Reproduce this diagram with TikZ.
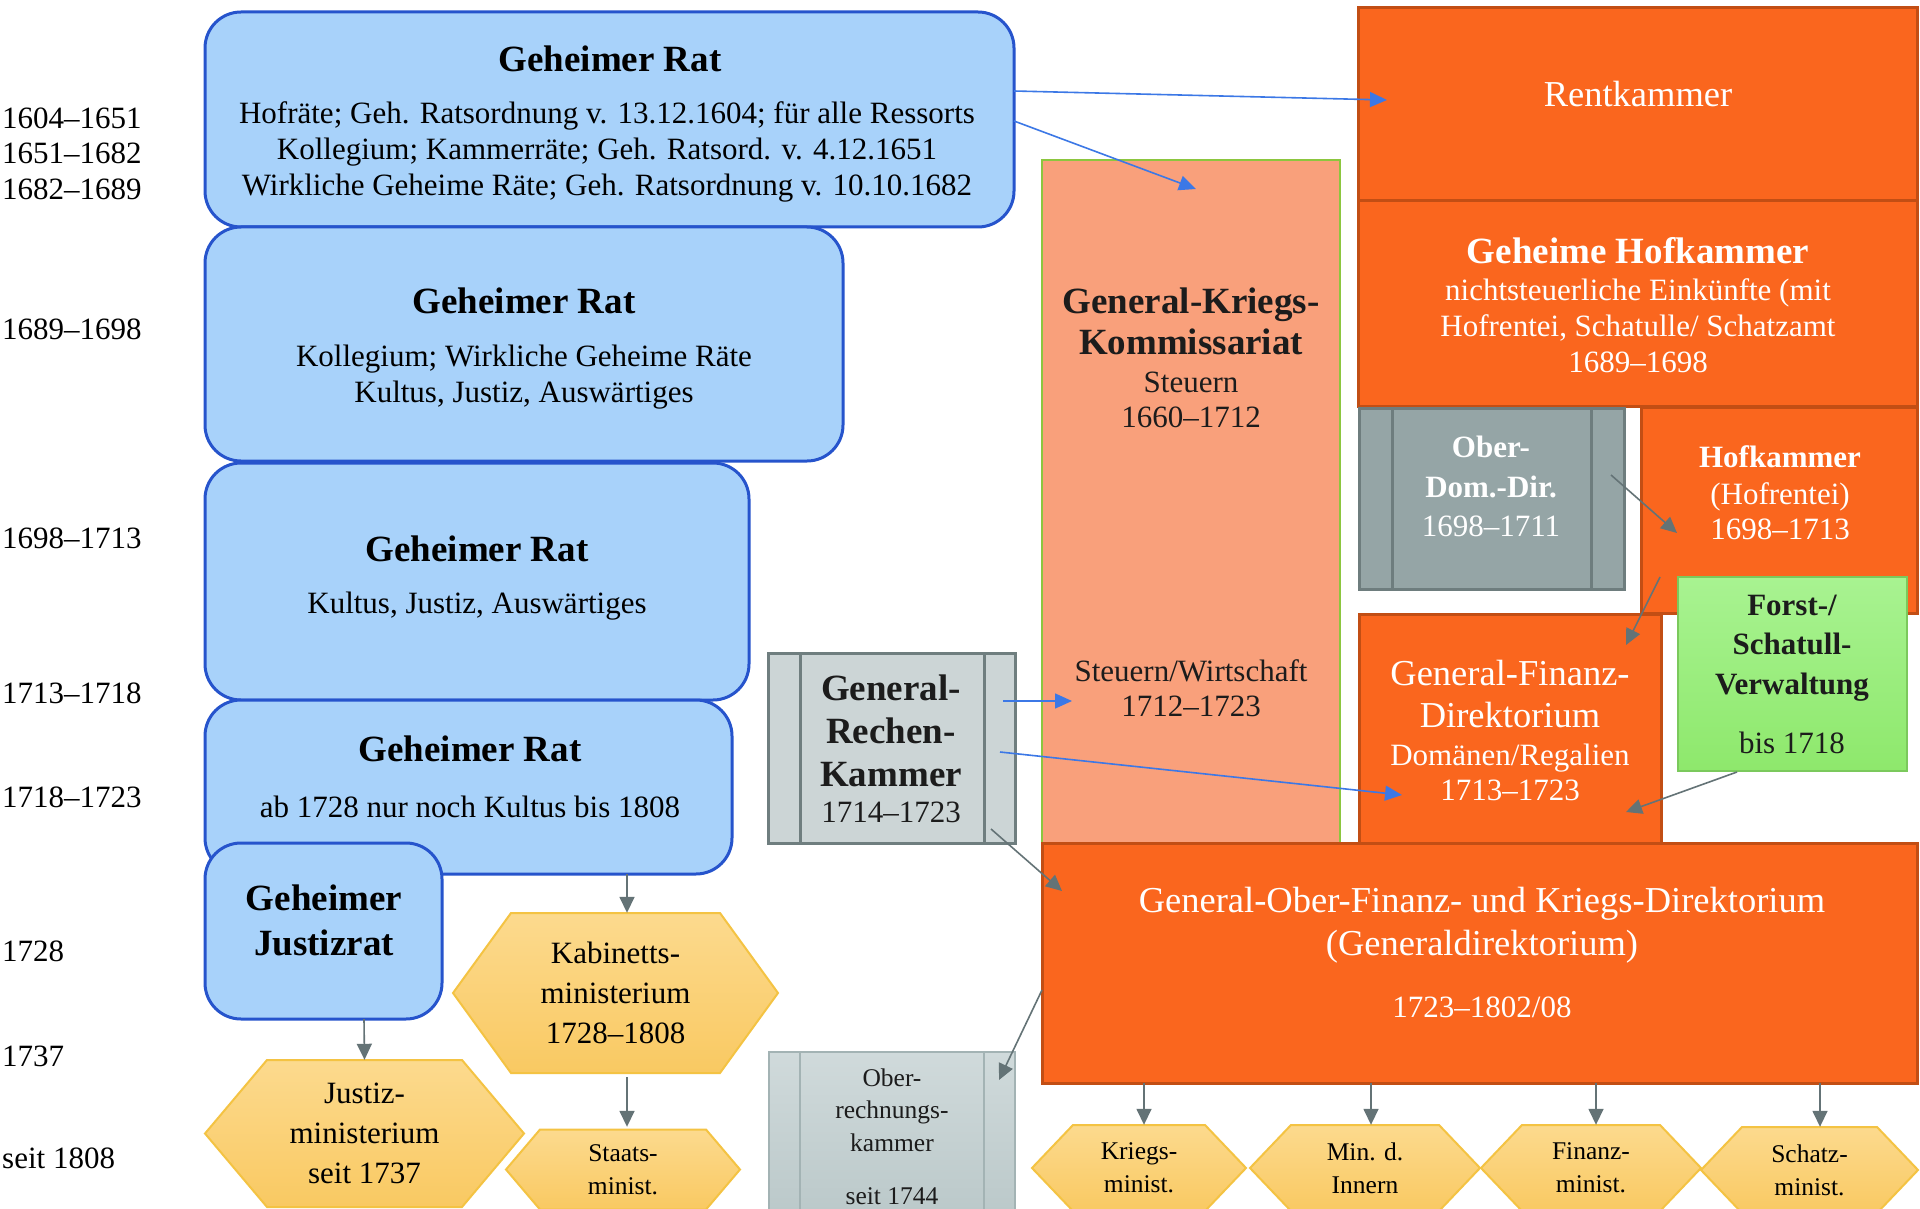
\documentclass[tikz,border=0pt]{standalone}
\usepackage{fontspec}
\setmainfont{Liberation Serif}
\usetikzlibrary{arrows.meta}
\definecolor{blueF}{HTML}{A8D2FA}
\definecolor{blueD}{HTML}{2654CC}
\definecolor{orF}{HTML}{FA661E}
\definecolor{orD}{HTML}{C24E14}
\definecolor{salF}{HTML}{F9A07B}
\definecolor{salD}{HTML}{8CC63F}
\definecolor{grF}{HTML}{95A5A6}
\definecolor{grD}{HTML}{6E7D7E}
\definecolor{lgF}{HTML}{CCD5D6}
\definecolor{lgD}{HTML}{6F7E7F}
\definecolor{orkT}{HTML}{D0DADB}
\definecolor{orkB}{HTML}{B9C7C8}
\definecolor{orkD}{HTML}{A3B3B4}
\definecolor{gnT}{HTML}{A8F391}
\definecolor{gnB}{HTML}{8EE86C}
\definecolor{gnD}{HTML}{7BC95C}
\definecolor{hxT}{HTML}{FCDA8E}
\definecolor{hxB}{HTML}{F9C962}
\definecolor{hxD}{HTML}{F4C343}
\definecolor{arB}{HTML}{3C78E6}
\definecolor{arG}{HTML}{647376}
\definecolor{dk}{HTML}{1C1C1C}
\newcommand\fR{\fontsize{31}{35}\selectfont}
\newcommand\fB{\fontsize{37}{41}\selectfont\bfseries}
\newcommand\fL{\fontsize{36.5}{40.5}\selectfont}
\newcommand\fS{\fontsize{25.5}{33}\selectfont}
\newcommand\hexa[8]{%
  \path[hexshape] ({#3-#5/2},#4) -- ({#3-#5/2+#7},{#4-#6/2}) -- ({#3+#5/2-#7},{#4-#6/2}) -- ({#3+#5/2},#4) -- ({#3+#5/2-#7},{#4+#6/2}) -- ({#3-#5/2+#7},{#4+#6/2}) -- cycle;
  \node[hexnode,#1,minimum width=#5pt,minimum height=#6pt] (#2) at (#3,#4) {#8};}
\begin{document}
\begin{tikzpicture}[x=1pt,y=-1pt,
  box/.style={rectangle,inner sep=0pt,outer sep=0pt},
  bluebox/.style={box,fill=blueF,draw=blueD,line width=3pt,rounded corners=36pt},
  orbox/.style={box,fill=orF,draw=orD,line width=3pt},
  txt/.style={inner sep=0pt,align=center,text=black},
  wtxt/.style={txt,text=white},
  dtxt/.style={txt,text=dk},
  yr/.style={inner sep=0pt,anchor=west,font=\fR},
  hexshape/.style={top color=hxT,bottom color=hxB,draw=hxD,line width=2pt,line join=miter},
  hexnode/.style={rectangle,inner sep=0pt,align=center,text=black},
  inner/.style={line width=3pt},
  barrow/.style={draw=arB,line width=1.6pt,-{Triangle[length=17pt,width=15pt]}},
  garrow/.style={draw=arG,line width=1.6pt,-{Triangle[length=16pt,width=15pt]}}
]
\useasboundingbox (0,0) rectangle (1920,1209);
\fill[white] (0,0) rectangle (1920,1209);

% year labels
\node[yr] (y1) at (2,118) {1604–1651};
\node[yr] (y2) at (2,153) {1651–1682};
\node[yr] (y3) at (2,189) {1682–1689};
\node[yr] (y4) at (2,329) {1689–1698};
\node[yr] (y5) at (2,538) {1698–1713};
\node[yr] (y6) at (2,693) {1713–1718};
\node[yr] (y7) at (2,797) {1718–1723};
\node[yr] (y8) at (2,951) {1728};
\node[yr] (y9) at (2,1056) {1737};
\node[yr] (y10) at (2,1158) {seit 1808};

% Geheimer Rat boxes
\node[bluebox,minimum width=809pt,minimum height=215pt] (gr1) at (609.5,119.5) {};
\node[txt,font=\fB] (gr1t) at (610,59) {Geheimer Rat};
\node[txt,font=\fontsize{31}{36}\selectfont] (gr1b) at (607,152) {Hofräte; Geh. Ratsordnung v. 13.12.1604; für alle Ressorts\\Kollegium; Kammerräte; Geh. Ratsord. v. 4.12.1651\\Wirkliche Geheime Räte; Geh. Ratsordnung v. 10.10.1682};

\node[bluebox,minimum width=638pt,minimum height=234pt] (gr2) at (524,344) {};
\node[txt,font=\fB] (gr2t) at (524,301) {Geheimer Rat};
\node[txt,font=\fontsize{31}{36}\selectfont] (gr2b) at (524,377) {Kollegium; Wirkliche Geheime Räte\\Kultus, Justiz, Auswärtiges};

\node[bluebox,minimum width=544pt,minimum height=237pt] (gr3) at (477,581.5) {};
\node[txt,font=\fB] (gr3t) at (477,549) {Geheimer Rat};
\node[txt,font=\fR] (gr3b) at (477,606) {Kultus, Justiz, Auswärtiges};

\node[bluebox,minimum width=527pt,minimum height=174pt] (gr4) at (468.5,787) {};
\node[txt,font=\fB] (gr4t) at (470,749) {Geheimer Rat};
\node[txt,font=\fR] (gr4b) at (470,807) {ab 1728 nur noch Kultus bis 1808};

\node[bluebox,minimum width=237pt,minimum height=176pt] (gj) at (323.5,931) {};
\node[txt,font=\fontsize{37}{45}\selectfont\bfseries] (gjt) at (324,920) {Geheimer\\Justizrat};

% General-Kriegs-Kommissariat
\node[box,fill=salF,draw=salD,line width=1.8pt,minimum width=298pt,minimum height=683pt] (gkk) at (1191,501.5) {};
\node[dtxt,font=\fB] (gkkt) at (1191,321) {General-Kriegs-\\Kommissariat};
\node[dtxt,font=\fR] (gkkb) at (1191,400) {Steuern\\1660–1712};
\node[dtxt,font=\fR] (gkkc) at (1191,688) {Steuern/Wirtschaft\\1712–1723};

% right column
\node[orbox,minimum width=559pt,minimum height=193pt] (rent) at (1637.5,104.5) {};
\node[wtxt,font=\fL] (rentt) at (1638,94.5) {Rentkammer};

\node[orbox,minimum width=559pt,minimum height=205pt] (ghk) at (1637.5,303.5) {};
\node[wtxt,font=\fB] (ghkt) at (1638,250.5) {Geheime Hofkammer};
\node[wtxt,font=\fontsize{31}{36}\selectfont] (ghkb) at (1638,325.5) {nichtsteuerliche Einkünfte (mit\\Hofrentei, Schatulle/ Schatzamt\\1689–1698};

\node[box,fill=grF,draw=grD,line width=3pt,minimum width=265pt,minimum height=181pt] (od) at (1491.5,498.5) {};
\draw[inner,draw=grD] ([xshift=33pt]od.north west) -- ([xshift=33pt]od.south west);
\draw[inner,draw=grD] ([xshift=-33pt]od.north east) -- ([xshift=-33pt]od.south east);
\node[wtxt,font=\fontsize{31}{40}\selectfont\bfseries] (odt) at (1491,467) {Ober-\\Dom.-Dir.};
\node[wtxt,font=\fR] (odb) at (1491,526) {1698–1711};

\node[orbox,minimum width=276pt,minimum height=206pt] (hk) at (1779,510) {};
\node[wtxt,font=\fontsize{31}{35}\selectfont\bfseries] (hkt) at (1780,457) {Hofkammer};
\node[wtxt,font=\fR] (hkb) at (1780,511) {(Hofrentei)\\1698–1713};

\node[orbox,minimum width=302pt,minimum height=229pt] (gfd) at (1510,728.5) {};
\node[wtxt,font=\fontsize{36.5}{41.5}\selectfont] (gfdt) at (1510,694) {General-Finanz-\\Direktorium};
\node[wtxt,font=\fR] (gfdb) at (1510,772) {Domänen/Regalien\\1713–1723};

\node[box,top color=gnT,bottom color=gnB,draw=gnD,line width=2pt,minimum width=229pt,minimum height=194pt] (forst) at (1792.5,674) {};
\node[dtxt,font=\fontsize{31}{39.5}\selectfont\bfseries] (forstt) at (1792,648) {Forst-/\\Schatull-\\Verwaltung};
\node[dtxt,font=\fR] (forstb) at (1792,743) {bis 1718};

% General-Rechen-Kammer
\node[box,fill=lgF,draw=lgD,line width=3pt,minimum width=247pt,minimum height=190pt] (grk) at (891.5,748) {};
\draw[inner,draw=lgD] ([xshift=32pt]grk.north west) -- ([xshift=32pt]grk.south west);
\draw[inner,draw=lgD] ([xshift=-31pt]grk.north east) -- ([xshift=-31pt]grk.south east);
\node[dtxt,font=\fontsize{37}{43}\selectfont\bfseries] (grkt) at (891,731) {General-\\Rechen-\\Kammer};
\node[dtxt,font=\fR] (grkb) at (891,812) {1714–1723};

% Generaldirektorium
\node[orbox,minimum width=875pt,minimum height=240pt] (gof) at (1479.5,963) {};
\node[wtxt,font=\fontsize{36.5}{43}\selectfont] (goft) at (1482,925) {General-Ober-Finanz- und Kriegs-Direktorium\\(Generaldirektorium)};
\node[wtxt,font=\fR] (gofb) at (1482,1007) {1723–1802/08};

% Oberrechnungskammer
\node[box,top color=orkT,bottom color=orkB,draw=orkD,line width=2pt,minimum width=246pt,minimum height=178pt] (ork) at (892,1141) {};
\draw[line width=2pt,draw=orkD] ([xshift=31pt]ork.north west) -- ([xshift=31pt]ork.south west);
\draw[line width=2pt,draw=orkD] ([xshift=-31pt]ork.north east) -- ([xshift=-31pt]ork.south east);
\node[dtxt,font=\fontsize{25.5}{32.5}\selectfont] (orkt) at (892,1110) {Ober-\\rechnungs-\\kammer};
\node[dtxt,font=\fS] (orkb) at (892,1196) {seit 1744};

% hexagons
\hexa{font=\fontsize{31}{40}\selectfont}{kab}{615.5}{993}{325}{160}{58}{Kabinetts-\\ministerium\\1728–1808}
\hexa{font=\fontsize{31}{40}\selectfont}{just}{364.5}{1133.5}{319}{147}{62}{Justiz-\\ministerium\\seit 1737}
\hexa{font=\fS}{sta}{623}{1169.5}{234}{80}{34}{Staats-\\minist.}
\hexa{font=\fontsize{25.5}{33}\selectfont}{kr}{1139}{1168}{214}{86}{41}{Kriegs-\\minist.}
\hexa{font=\fontsize{25.5}{33}\selectfont}{inn}{1365}{1168}{230}{86}{41}{Min. d.\\Innern}
\hexa{font=\fontsize{25.5}{33}\selectfont}{fin}{1591}{1168}{220}{86}{41}{Finanz-\\minist.}
\hexa{font=\fontsize{25.5}{33}\selectfont}{sch}{1809.5}{1170}{217}{86}{41}{Schatz-\\minist.}

% connectors
\draw[barrow] ([shift={(0,-28.5)}]gr1.east) -- ([shift={(29,-4.5)}]rent.west);
\draw[barrow] ([shift={(0,1.5)}]gr1.east) -- ([shift={(5,29)}]gkk.north);
\draw[barrow] ([shift={(-12,-47)}]grk.east) -- ([shift={(30,199.5)}]gkk.west);
\draw[barrow] ([shift={(-15,4)}]grk.east) -- ([shift={(43,66.5)}]gfd.west);
\draw[garrow] ([shift={(-13,-23.5)}]od.east) -- ([shift={(36,23)}]hk.west);
\draw[garrow] ([shift={(19,-36)}]hk.south west) -- ([shift={(-35,31)}]gfd.north east);
\draw[garrow] ([shift={(-55.5,1)}]forst.south) -- ([shift={(-35,83.5)}]gfd.east);
\draw[garrow] ([shift={(-24,-14)}]grk.south east) -- ([shift={(20,48)}]gof.north west);
\draw[garrow] ([shift={(0,27)}]gof.west) -- ([shift={(-16,28)}]ork.north east);
\draw[garrow] ([shift={(158.5,0)}]gr4.south) -- ([shift={(11.5,0)}]kab.north);
\draw[garrow] ([shift={(40.5,0)}]gj.south) -- (just.north);
\draw[garrow] ([shift={(11.5,4)}]kab.south) -- ([shift={(4,-2.5)}]sta.north);
\draw[garrow] ([shift={(-335.5,0)}]gof.south) -- ([shift={(5,0)}]kr.north);
\draw[garrow] ([shift={(-108.5,0)}]gof.south) -- ([shift={(6,0)}]inn.north);
\draw[garrow] ([shift={(116.5,0)}]gof.south) -- ([shift={(5,0)}]fin.north);
\draw[garrow] ([shift={(340.5,0)}]gof.south) -- ([shift={(10.5,0)}]sch.north);
\end{tikzpicture}
\end{document}
